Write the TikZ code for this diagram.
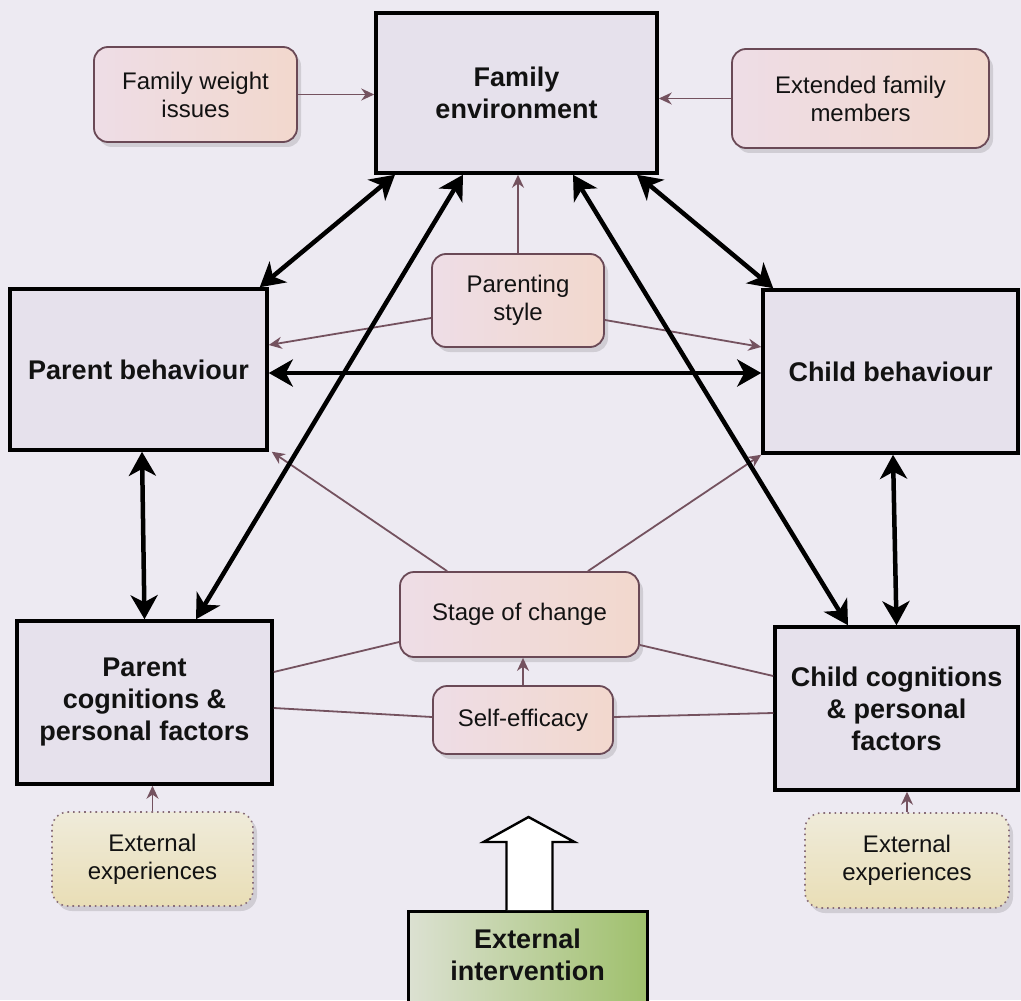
\documentclass[tikz,border=0pt]{standalone}
\usepackage{fontspec}
\setmainfont{Liberation Sans}
\usetikzlibrary{arrows.meta,calc,shadows}

\definecolor{paper}{HTML}{EDEAF2}
\definecolor{boxfill}{HTML}{E6E1EC}
\definecolor{linkcol}{HTML}{74525F}
\definecolor{roundedge}{HTML}{6A4956}
\definecolor{pinkL}{HTML}{EEDDE6}
\definecolor{peachR}{HTML}{F2D8CD}
\definecolor{creamT}{HTML}{EFEBDA}
\definecolor{creamB}{HTML}{E9DEB6}
\definecolor{greenL}{HTML}{DCE1D2}
\definecolor{greenR}{HTML}{9FC06C}
\definecolor{ink}{HTML}{121212}

\begin{document}
\begin{tikzpicture}[x=0.5pt,y=-0.5pt,
  mainbox/.style={draw=black, line width=1.75pt, fill=boxfill, align=center,
    text=ink, font=\fontsize{13.5}{16}\selectfont\bfseries, inner sep=2pt},
  factor/.style={draw=roundedge, line width=0.9pt, rounded corners=7pt,
    left color=pinkL, right color=peachR, align=center, text=ink,
    font=\fontsize{12}{14}\selectfont, inner sep=2pt,
    drop shadow={shadow xshift=2pt, shadow yshift=-2.5pt, opacity=0.12, fill=black}},
  outside/.style={draw=roundedge!80, line width=0.8pt, dotted, rounded corners=8pt,
    top color=creamT, bottom color=creamB, align=center, text=ink,
    font=\fontsize{12}{14}\selectfont, inner sep=2pt,
    drop shadow={shadow xshift=2pt, shadow yshift=-2.5pt, opacity=0.12, fill=black}},
  intervention/.style={draw=black, line width=1.5pt, left color=greenL, right color=greenR,
    align=center, text=ink, font=\fontsize{13.5}{16}\selectfont\bfseries, inner sep=2pt},
  mutual/.style={draw=black, line width=2.25pt,
    {Stealth[length=12pt,width=13.5pt,inset=3.5pt]}-{Stealth[length=12pt,width=13.5pt,inset=3.5pt]}},
  influence/.style={draw=linkcol, line width=0.9pt, -{Stealth[length=6.5pt,width=6pt]}},
  link/.style={draw=linkcol, line width=0.9pt}
]
% page
\useasboundingbox (0,0) rectangle (1021,1000);
\fill[paper] (0,0) rectangle (1021,1000);

% main boxes
\node[mainbox, minimum width=140.5pt, minimum height=80pt] (fam) at (516.5,93) {Family\\environment};
\node[mainbox, minimum width=128.5pt, minimum height=80.5pt] (pb) at (138.5,369.5) {Parent behaviour};
\node[mainbox, minimum width=127.5pt, minimum height=81.5pt] (cb) at (890.5,371.5) {Child behaviour};
\node[mainbox, minimum width=127.5pt, minimum height=81.5pt] (pc) at (144.5,702.5) {Parent\\cognitions \&\\personal factors};
\node[mainbox, minimum width=121.5pt, minimum height=81.5pt] (cc) at (896.5,708.5) {Child cognitions\\\& personal\\factors};

% factor boxes
\node[factor, minimum width=101.5pt, minimum height=47.5pt] (fwi) at (195.5,94.5) {Family weight\\issues};
\node[factor, minimum width=128.5pt, minimum height=49.5pt] (ext) at (860.5,98.5) {Extended family\\members};
\node[factor, minimum width=86pt, minimum height=46.5pt] (ps) at (518,300.5) {Parenting\\style};
\node[factor, minimum width=119.5pt, minimum height=42.5pt] (soc) at (519.5,614.5) {Stage of change};
\node[factor, minimum width=90pt, minimum height=34pt] (se) at (523,720) {Self-efficacy};

% external experiences
\node[outside, minimum width=100.5pt, minimum height=47pt] (eel) at (152.5,859) {External\\experiences};
\node[outside, minimum width=102pt, minimum height=47.5pt] (eer) at (907,860.5) {External\\experiences};

% external intervention (runs off the lower edge)
\node[intervention, minimum width=119.5pt, minimum height=50pt, anchor=north] (ei) at (527.5,910) {};
\node[align=center, text=ink, font=\fontsize{13.5}{16}\selectfont\bfseries] (eitext) at (527.5,955) {External\\intervention};

% hollow block arrow above the intervention
\draw[line width=1.2pt, fill=white, line join=miter]
  ($(ei.north)+(-21,0)$) -- ($(ei.north)+(-21,-68)$) -- ($(ei.north)+(-44,-68)$)
  -- ($(ei.north)+(1,-93)$) -- ($(ei.north)+(47,-68)$) -- ($(ei.north)+(25,-68)$)
  -- ($(ei.north)+(25,0)$);

% thin influence lines
\draw[influence] (fwi.east) -- (fwi.east -| fam.west);
\draw[influence] (ext.west) -- (ext.west -| fam.east);
\draw[influence] (ps.north) -- (ps.north |- fam.south);
\draw[influence] ([yshift=-8.75pt]ps.west) -- ([yshift=12.25pt]pb.east);
\draw[influence] ([yshift=-9.75pt]ps.east) -- ([yshift=12.25pt]cb.west);
\draw[influence] ([xshift=24pt]soc.north west) -- ([xshift=1.5pt]pb.south east);
\draw[influence] ([xshift=-26pt]soc.north east) -- (cb.south west);
\draw[link] ([yshift=-13.75pt]soc.west) -- ([yshift=15.25pt]pc.east);
\draw[link] ([yshift=-15.25pt]soc.east) -- ([yshift=16.25pt]cc.west);
\draw[link] ([yshift=1.5pt]se.west) -- ([yshift=-2.75pt]pc.east);
\draw[link] ([yshift=1.5pt]se.east) -- ([yshift=-2.25pt]cc.west);
\draw[influence] (se.north) -- (se.north |- soc.south);
\draw[influence] (eel.north) -- (eel.north |- pc.south);
\draw[influence] (eer.north) -- (eer.north |- cc.south);

% two-way relationships
\draw[mutual] ([xshift=-60.75pt]fam.south) -- ([xshift=-4.5pt]pb.north east);
\draw[mutual] ([xshift=-26.75pt]fam.south) -- ([xshift=25.75pt]pc.north);
\draw[mutual] ([xshift=28.25pt]fam.south) -- ([xshift=-24.25pt]cc.north);
\draw[mutual] ([xshift=60.25pt]fam.south) -- ([xshift=6pt]cb.north west);
\draw[mutual] ([yshift=-1.75pt]pb.east) -- ([yshift=-1.75pt]pb.east -| cb.west);
\draw[mutual] ([xshift=1.75pt]pb.south) -- (pc.north);
\draw[mutual] ([xshift=1.25pt]cb.south) -- (cc.north);
\end{tikzpicture}
\end{document}
